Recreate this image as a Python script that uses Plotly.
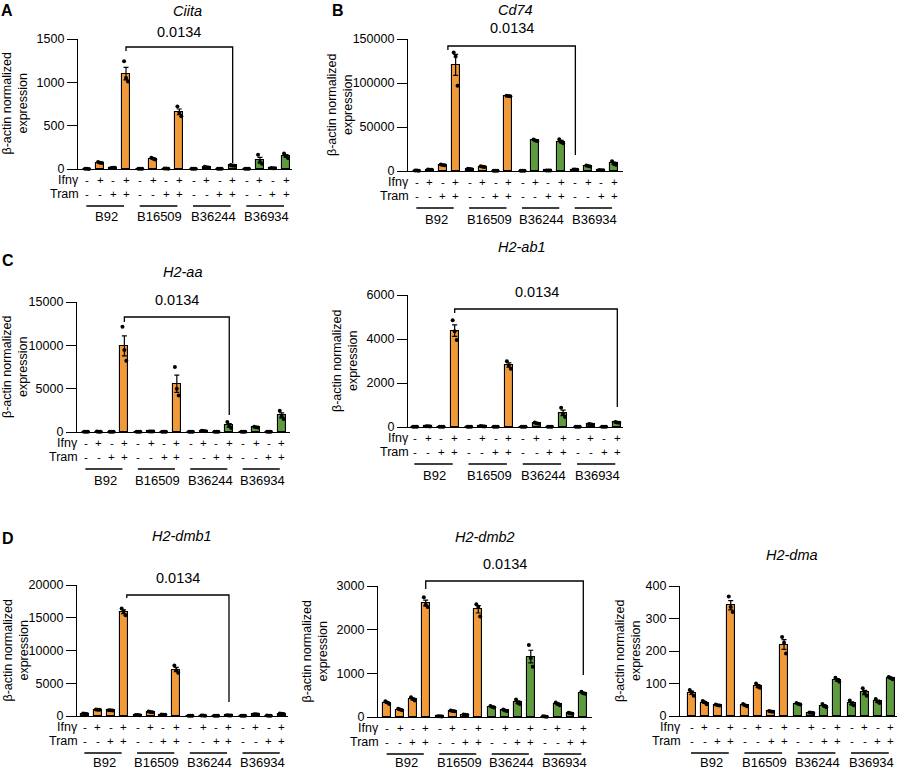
import numpy as np
import plotly.graph_objects as go

# ---------------- data ----------------
GROUPS = ["B92", "B16509", "B36244", "B36934"]
IFNG_SIGNS = ["-", "+", "-", "+"] * 4
TRAM_SIGNS = ["-", "-", "+", "+"] * 4
GENES = ["Ciita", "Cd74", "H2-aa", "H2-ab1", "H2-dmb1", "H2-dmb2", "H2-dma"]
PVAL_TEXT = "0.0134"
Y_TITLE = "β-actin normalized<br>expression"
ROW_LABELS = ["Ifnγ", "Tram"]

# replicate values (3 per bar), 16 bars per gene, order: B92(4), B16509(4), B36244(4), B36934(4)
ciita_reps = [[2, 3, 1], [80, 72, 70], [12, 14, 13], [1243, 1050, 1010],
              [4, 3, 2], [130, 118, 110], [6, 5, 4], [720, 650, 610],
              [3, 2, 2], [25, 20, 18], [4, 3, 3], [45, 40, 38],
              [3, 3, 2], [165, 80, 60], [12, 10, 9], [178, 150, 128]]
cd74_reps = [[600, 500, 400], [1800, 1500, 1300], [7300, 6800, 6400], [134700, 130000, 97000],
             [2600, 2300, 2000], [5300, 4800, 4500], [400, 300, 250], [85600, 85200, 85000],
             [300, 250, 200], [35800, 34800, 34200], [700, 600, 500], [36000, 33000, 31500],
             [1800, 1600, 1400], [6200, 5700, 5200], [1000, 900, 800], [11200, 8000, 7000]]
h2aa_reps = [[40, 30, 20], [50, 40, 35], [40, 30, 25], [12140, 9460, 8230],
             [40, 30, 25], [70, 60, 50], [40, 30, 25], [7500, 5000, 4200],
             [30, 20, 15], [150, 120, 100], [30, 20, 15], [1150, 700, 450],
             [30, 20, 15], [600, 560, 530], [40, 30, 20], [2450, 1800, 1500]]
h2ab1_reps = [[12, 10, 8], [35, 30, 25], [12, 10, 8], [4850, 4350, 3950],
              [12, 10, 8], [40, 30, 25], [12, 10, 8], [2990, 2800, 2650],
              [12, 10, 8], [200, 170, 150], [12, 10, 8], [880, 600, 450],
              [12, 10, 8], [140, 120, 105], [12, 10, 8], [230, 210, 195]]
h2dmb1_reps = [[380, 350, 320], [1000, 970, 940], [890, 860, 830], [16400, 16000, 15400],
               [170, 150, 130], [680, 610, 560], [220, 200, 180], [7700, 7000, 6600],
               [40, 30, 25], [70, 60, 50], [50, 40, 30], [100, 80, 70],
               [50, 40, 30], [280, 250, 230], [60, 50, 40], [380, 350, 320]]
h2dmb2_reps = [[360, 330, 300], [190, 170, 155], [450, 410, 380], [2740, 2570, 2520],
               [20, 15, 10], [150, 140, 130], [60, 50, 45], [2580, 2520, 2300],
               [250, 230, 215], [170, 150, 135], [400, 320, 300], [1650, 1350, 1150],
               [15, 10, 8], [330, 300, 270], [95, 85, 75], [580, 545, 530]]
h2dma_reps = [[80, 72, 62], [46, 42, 36], [35, 33, 32], [368, 335, 320],
              [37, 33, 30], [100, 90, 87], [15, 14, 13], [243, 225, 192],
              [40, 37, 35], [11, 10, 9], [37, 31, 27], [118, 111, 105],
              [48, 37, 33], [85, 70, 62], [52, 44, 40], [120, 117, 113]]

Y_MAX = [1500, 150000, 15000, 6000, 20000, 3000, 400]
Y_DTICK = [500, 50000, 5000, 2000, 5000, 1000, 100]

# ---------------- style / layout geometry (pixels) ----------------
ORANGE = "#F09A3A"
GREEN = "#5E9A3E"
FONT = "Liberation Sans, Arial, sans-serif"
W, H = 900, 770

def fx(p):
    return p / W

def fy(p):
    return 1 - p / H

panels = [
    dict(reps=ciita_reps, x0=78, x1=292, b0=87, bN=286, ytop=39, yzero=169,
         title=(187, 11), pval=(179, 32), ylab=14.5,
         bracket=(3.0, 11.2, 47, 51, 163), letter=("A", 7, 11)),
    dict(reps=cd74_reps, x0=408, x1=623, b0=417, bN=614, ytop=39, yzero=171,
         title=(515, 10), pval=(512, 28), ylab=340,
         bracket=(2.4, 12.3, 46, 50, 155), letter=("B", 338, 11)),
    dict(reps=h2aa_reps, x0=77, x1=290, b0=86, bN=281.7, ytop=302, yzero=432,
         title=(183, 272), pval=(177, 300), ylab=15,
         bracket=(3.0, 11.2, 317, 322, 415), letter=("C", 8, 261)),
    dict(reps=h2ab1_reps, x0=408, x1=623, b0=415, bN=617.3, ytop=295, yzero=427,
         title=(522, 247), pval=(537, 292), ylab=345,
         bracket=(3.0, 15.3, 309, 313, 407), letter=None),
    dict(reps=h2dmb1_reps, x0=77, x1=288, b0=85, bN=281.7, ytop=585, yzero=716,
         title=(182, 536), pval=(178, 578), ylab=15,
         bracket=(3.25, 11.2, 595, 598, 702), letter=("D", 8, 538)),
    dict(reps=h2dmb2_reps, x0=378, x1=592, b0=387.3, bN=583.3, ytop=586, yzero=717,
         title=(485, 537), pval=(505, 564), ylab=314,
         bracket=(3.0, 15.3, 581, 589, 675), letter=None),
    dict(reps=h2dma_reps, x0=680, x1=897, b0=691.7, bN=890.7, ytop=586, yzero=716,
         title=(792, 555), pval=None, ylab=628,
         bracket=None, letter=None),
]

xs = np.array([i + 0.1 * (i // 4) for i in range(16)])
bar_colors = [ORANGE if i // 4 < 2 else GREEN for i in range(16)]
dot_offsets = np.tile([-0.15, 0.0, 0.15], 16)

fig = go.Figure()
annotations = []
shapes = []
layout_axes = {}

for k, P in enumerate(panels):
    n = k + 1
    xa = "x" if n == 1 else f"x{n}"
    ya = "y" if n == 1 else f"y{n}"
    reps = np.array(P["reps"], dtype=float)
    means = reps.mean(axis=1)
    sems = reps.std(axis=1, ddof=1) / np.sqrt(reps.shape[1])

    fig.add_trace(go.Bar(
        x=xs, y=means, width=0.62,
        marker=dict(color=bar_colors, line=dict(color="black", width=1.1)),
        error_y=dict(type="data", array=sems, color="black", thickness=1.2, width=2.5),
        xaxis=xa, yaxis=ya, showlegend=False, hoverinfo="skip"))
    fig.add_trace(go.Scatter(
        x=np.repeat(xs, 3) + dot_offsets, y=reps.ravel(), mode="markers",
        marker=dict(color="black", size=4), cliponaxis=False,
        xaxis=xa, yaxis=ya, showlegend=False, hoverinfo="skip"))

    scale = (P["bN"] - P["b0"]) / xs[-1]
    r0 = -(P["b0"] - P["x0"]) / scale
    r1 = r0 + (P["x1"] - P["x0"]) / scale
    xkey = "xaxis" if n == 1 else f"xaxis{n}"
    ykey = "yaxis" if n == 1 else f"yaxis{n}"
    layout_axes[xkey] = dict(
        domain=[fx(P["x0"]), fx(P["x1"])], range=[r0, r1], anchor=ya,
        showline=True, linecolor="black", linewidth=1.3, ticks="",
        showticklabels=False, showgrid=False, zeroline=False, automargin=False)
    ymax = Y_MAX[k]
    layout_axes[ykey] = dict(
        domain=[fy(P["yzero"]), fy(P["ytop"])], range=[0, ymax], anchor=xa,
        showline=True, linecolor="black", linewidth=1.3,
        ticks="outside", ticklen=10, tickwidth=1.3, tickcolor="black",
        tickvals=list(range(0, ymax + 1, Y_DTICK[k])), tickformat="d",
        tickfont=dict(family=FONT, size=12.5, color="black"),
        showgrid=False, zeroline=False, automargin=False)

    # gene title
    tx, ty = P["title"]
    annotations.append(dict(x=fx(tx), y=fy(ty), xref="paper", yref="paper",
                            text=f"<i>{GENES[k]}</i>", showarrow=False,
                            xanchor="center", yanchor="middle",
                            font=dict(family=FONT, size=14.5, color="black")))
    # p-value and bracket
    if P["pval"] is not None:
        px_, py_ = P["pval"]
        annotations.append(dict(x=fx(px_), y=fy(py_), xref="paper", yref="paper",
                                text=PVAL_TEXT, showarrow=False,
                                xanchor="center", yanchor="middle",
                                font=dict(family=FONT, size=14.5, color="black")))
    if P["bracket"] is not None:
        bl, br, btop, lbot, rbot = P["bracket"]
        path = (f"M {bl},{fy(lbot)} L {bl},{fy(btop)} L {br},{fy(btop)} L {br},{fy(rbot)}")
        shapes.append(dict(type="path", path=path, xref=xa, yref="paper",
                           line=dict(color="black", width=1.3)))
    # y-axis title
    annotations.append(dict(x=fx(P["ylab"]), y=fy((P["ytop"] + P["yzero"]) / 2),
                            xref="paper", yref="paper", text=Y_TITLE, textangle=-90,
                            showarrow=False, xanchor="center", yanchor="middle",
                            font=dict(family=FONT, size=12.5, color="black")))
    # sign rows
    row_y = [P["yzero"] + 11, P["yzero"] + 25]
    for label, signs, yy in zip(ROW_LABELS, [IFNG_SIGNS, TRAM_SIGNS], row_y):
        annotations.append(dict(x=fx(P["x0"] + 3), y=fy(yy), xref="paper", yref="paper",
                                text=label, showarrow=False, xanchor="right",
                                yanchor="middle",
                                font=dict(family=FONT, size=12.5, color="black")))
        for i, s in enumerate(signs):
            annotations.append(dict(x=xs[i], y=fy(yy), xref=xa, yref="paper",
                                    text=s, showarrow=False, xanchor="center",
                                    yanchor="middle",
                                    font=dict(family=FONT, size=11.5, color="black")))
    # group underlines and labels
    label_y = min(P["yzero"] + 48, H - 8)
    for g, name in enumerate(GROUPS):
        first, last = xs[4 * g], xs[4 * g + 3]
        shapes.append(dict(type="line", x0=first - 0.05, x1=last - 0.15,
                           y0=fy(P["yzero"] + 37), y1=fy(P["yzero"] + 37),
                           xref=xa, yref="paper", line=dict(color="black", width=1.3)))
        annotations.append(dict(x=(first + last) / 2, y=fy(label_y),
                                xref=xa, yref="paper", text=name, showarrow=False,
                                xanchor="center", yanchor="middle",
                                font=dict(family=FONT, size=13, color="black")))
    # panel letter
    if P["letter"] is not None:
        lt, lx, ly = P["letter"]
        annotations.append(dict(x=fx(lx), y=fy(ly), xref="paper", yref="paper",
                                text=f"<b>{lt}</b>", showarrow=False,
                                xanchor="center", yanchor="middle",
                                font=dict(family=FONT, size=16, color="black")))

fig.update_layout(
    template="none",
    width=W, height=H,
    margin=dict(l=0, r=0, t=0, b=0),
    paper_bgcolor="white", plot_bgcolor="rgba(0,0,0,0)",
    font=dict(family=FONT, color="black"),
    bargap=0, showlegend=False,
    annotations=annotations, shapes=shapes,
    **layout_axes,
)

fig.write_html("out.html")
